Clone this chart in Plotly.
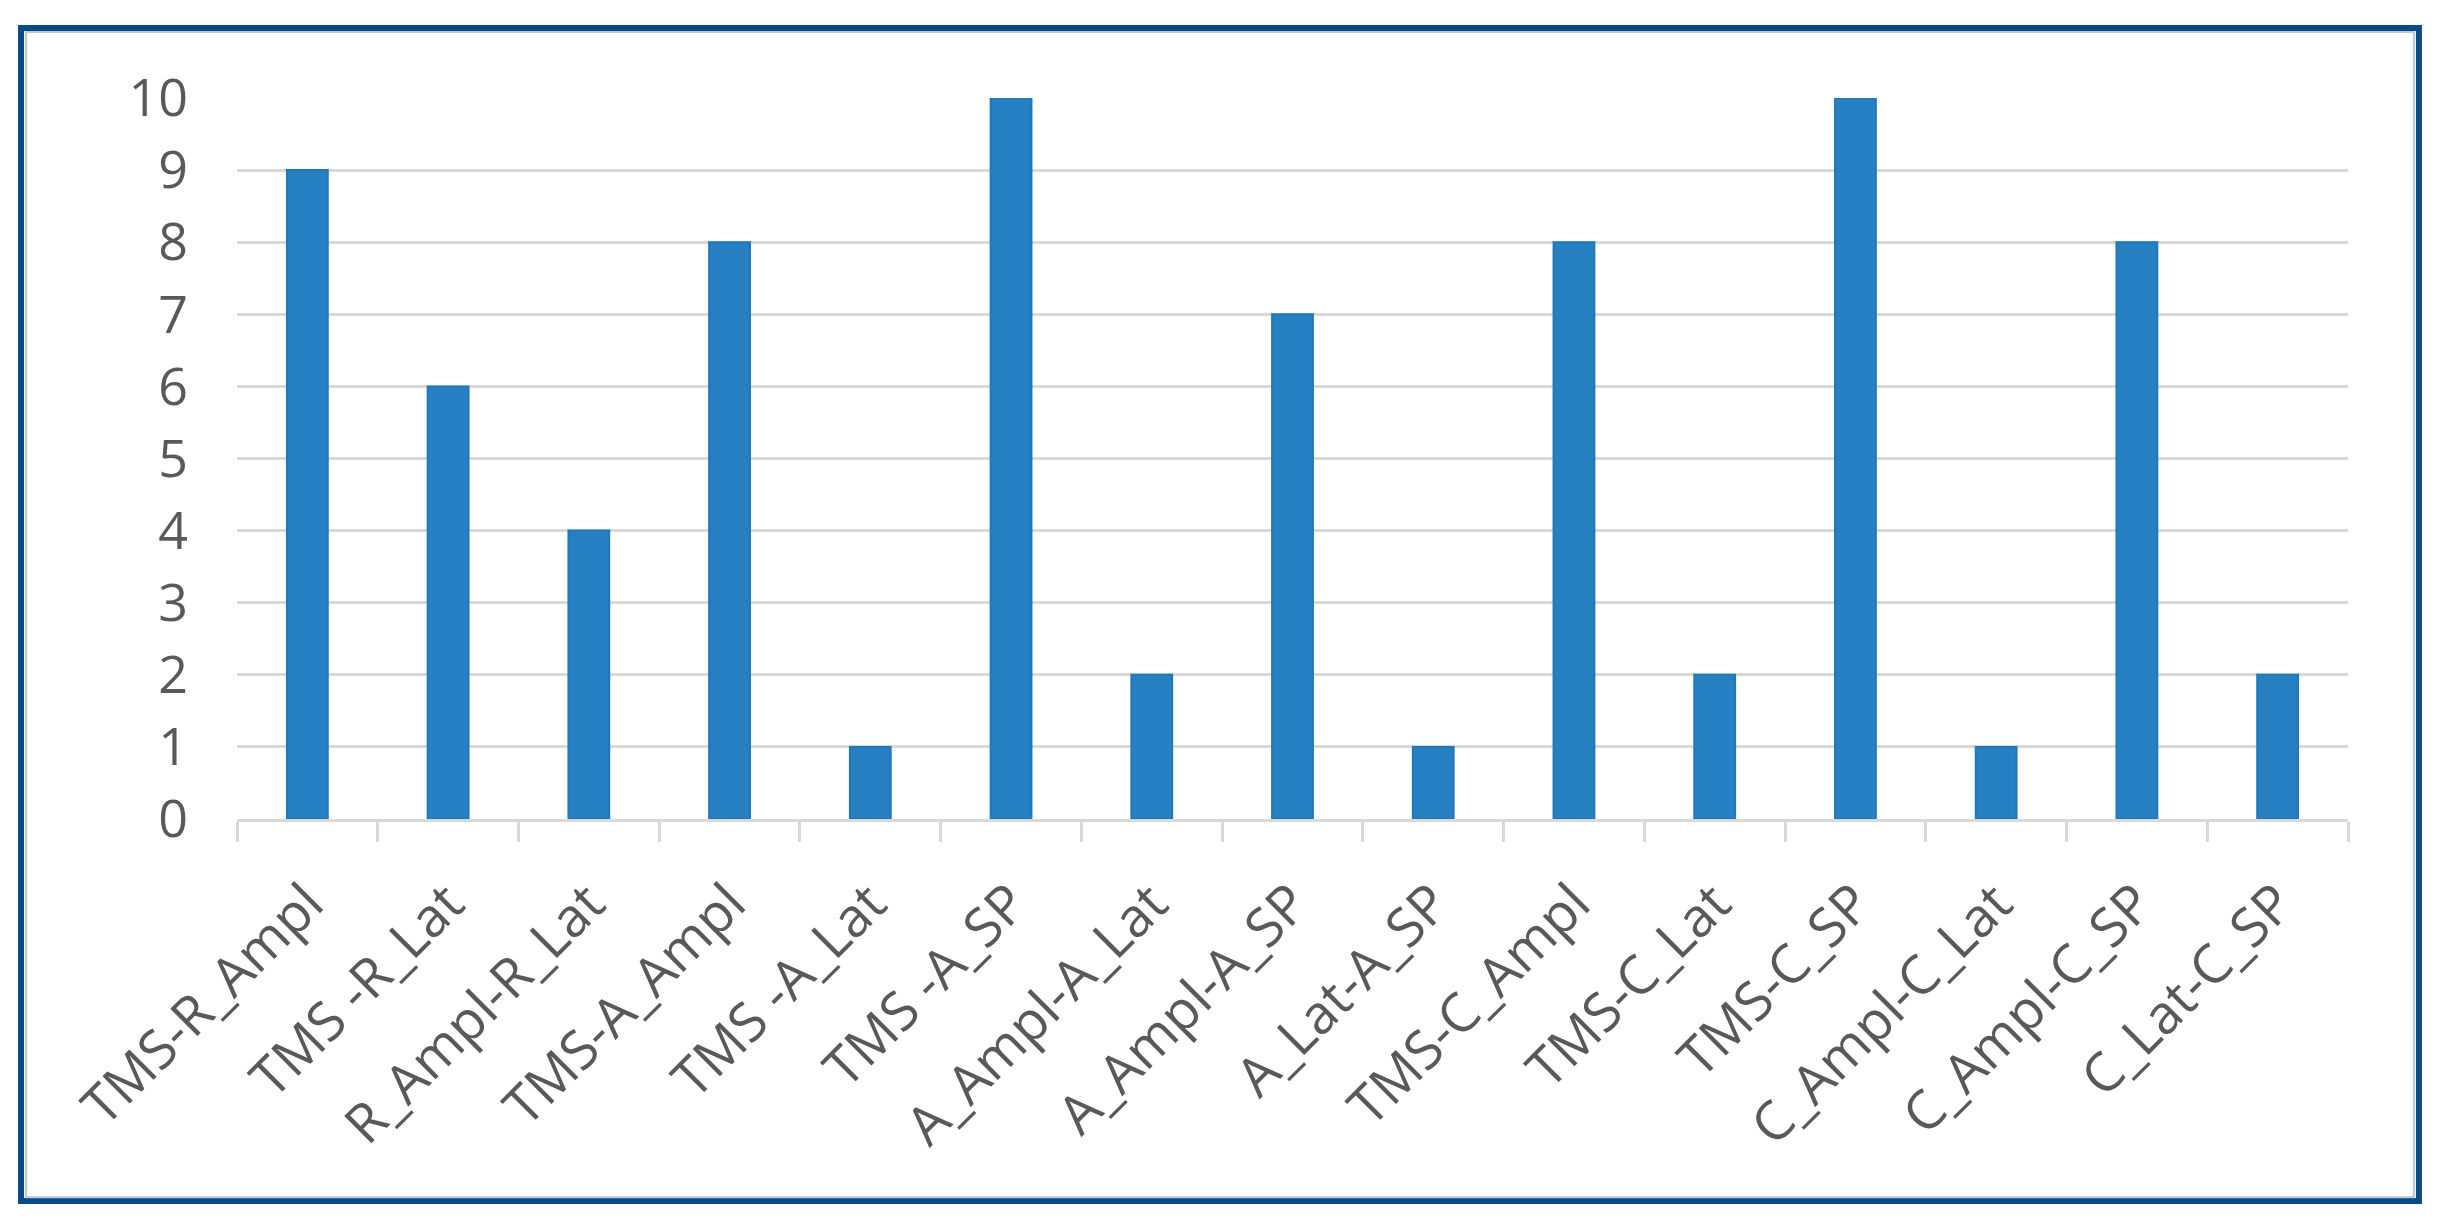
import plotly.graph_objects as go

categories = [
    "TMS-R_Ampl", "TMS -R_Lat", "R_Ampl-R_Lat", "TMS-A_Ampl", "TMS -A_Lat",
    "TMS -A_SP", "A_Ampl-A_Lat", "A_Ampl-A_SP", "A_Lat-A_SP", "TMS-C_Ampl",
    "TMS-C_Lat", "TMS-C_SP", "C_Ampl-C_Lat", "C_Ampl-C_SP", "C_Lat-C_SP",
]
values = [9, 6, 4, 8, 1, 10, 2, 7, 1, 8, 2, 10, 1, 8, 2]
y_ticks = list(range(0, 11))

font_family = "Open Sans, Noto Sans, sans-serif"
text_color = "#595959"
grid_color = "#d9d9d9"

fig = go.Figure(
    go.Bar(
        x=categories,
        y=values,
        marker=dict(color="#2680c2", line=dict(color="#1f78bd", width=2)),
    )
)

fig.update_layout(
    width=2443,
    height=1227,
    margin=dict(l=229, r=103, t=90, b=416),
    paper_bgcolor="white",
    plot_bgcolor="white",
    bargap=0.71,
    showlegend=False,
    font=dict(family=font_family, color=text_color),
)

fig.update_xaxes(
    type="category",
    tickangle=-45,
    tickfont=dict(size=54, color=text_color, family=font_family),
    showline=True,
    linecolor=grid_color,
    linewidth=3,
    ticks="outside",
    tickson="boundaries",
    ticklen=20,
    tickwidth=3,
    tickcolor=grid_color,
    showgrid=False,
    ticklabelstandoff=28,
)

fig.update_yaxes(
    range=[0, 10],
    tickvals=y_ticks,
    tickfont=dict(size=52, color=text_color, family=font_family),
    showgrid=True,
    gridcolor=grid_color,
    gridwidth=3,
    zeroline=False,
    showline=False,
    ticks="",
    ticklabelstandoff=48,
)

# outer frame round the whole chart (dark navy with a light inner line)
fig.add_shape(
    type="rect", xref="paper", yref="paper",
    x0=-0.1023, x1=1.0336, y0=-0.5298, y1=1.0971,
    line=dict(color="#0b4a85", width=6), layer="above",
)
fig.add_shape(
    type="rect", xref="paper", yref="paper",
    x0=-0.0999, x1=1.0312, y0=-0.5246, y1=1.0915,
    line=dict(color="#b6c8da", width=2), layer="above",
)

fig.write_html("out.html")
